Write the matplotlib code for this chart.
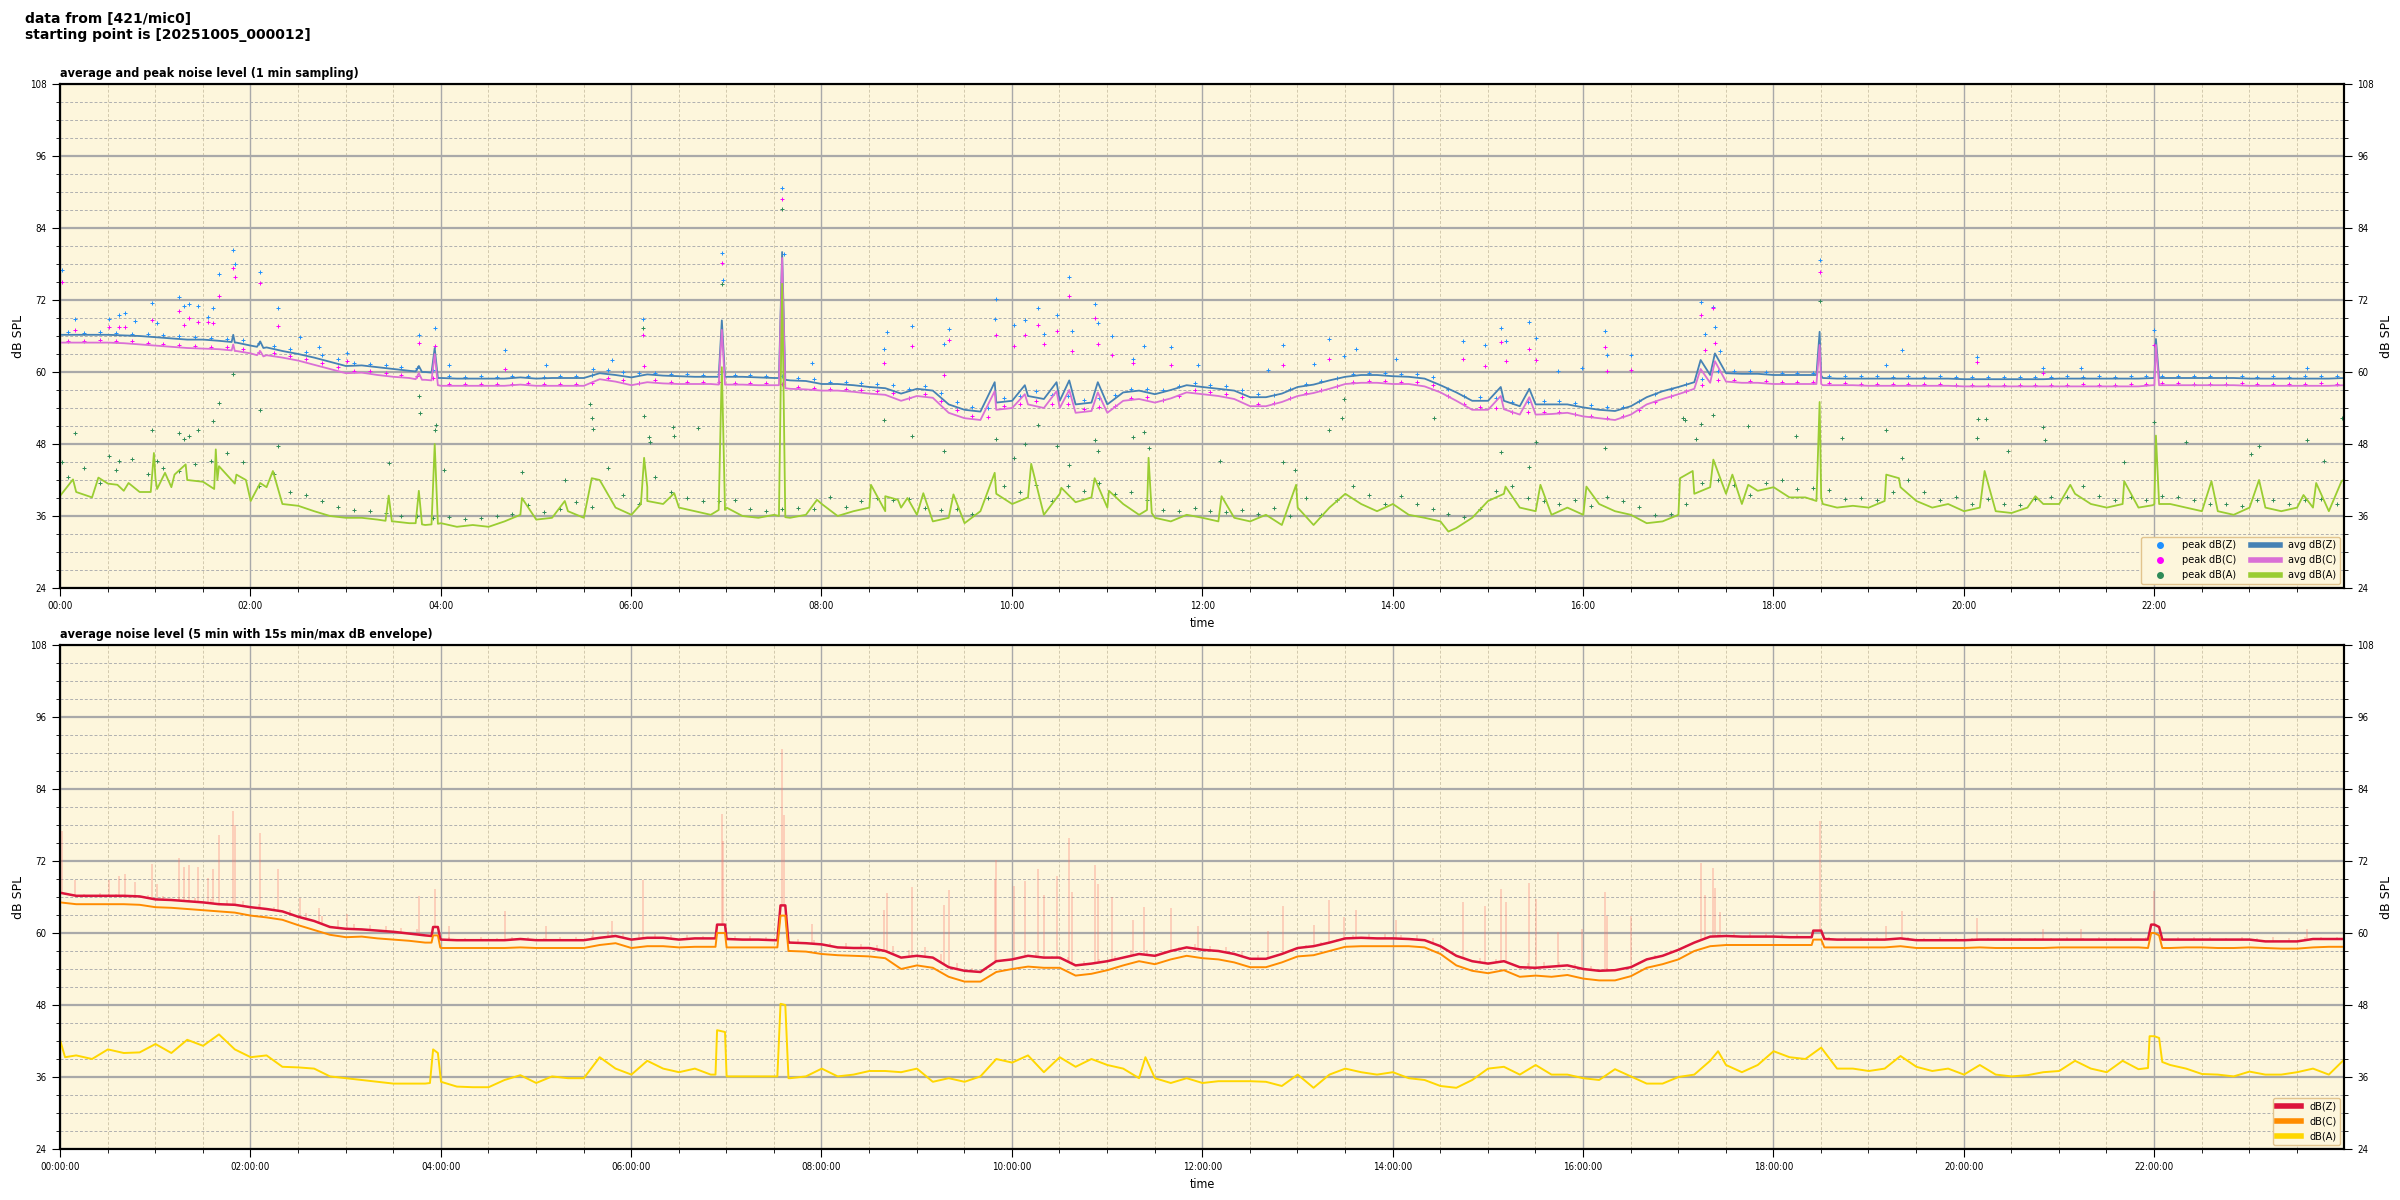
import numpy as np
import matplotlib
matplotlib.use("Agg")
import matplotlib.pyplot as plt
from matplotlib.ticker import MultipleLocator, FuncFormatter
from matplotlib.lines import Line2D

# ---- data (minutes after 00:00:12) ----
# top panel: 1 min averages, read every 10 min, 00:00 ... 24:00 (145 values)
avg_z = [
    66.2, 66.2, 66.2, 66.2, 66.1, 66.0,
    65.8, 65.6, 65.4, 65.4, 65.2, 64.9,
    64.4, 64.1, 63.5, 63.0, 62.4, 61.7,
    61.0, 61.1, 60.8, 60.5, 60.2, 60.0,
    59.0, 58.9, 58.9, 58.9, 58.9, 59.1,
    58.9, 59.0, 59.0, 59.0, 59.8, 59.5,
    59.1, 59.6, 59.4, 59.3, 59.2, 59.2,
    59.2, 59.2, 59.1, 59.0, 58.6, 58.5,
    58.0, 58.0, 57.8, 57.5, 57.3, 56.4,
    57.2, 56.9, 54.6, 53.7, 53.4, 54.9,
    55.2, 56.0, 55.5, 55.2, 54.6, 54.9,
    54.6, 56.6, 56.9, 56.3, 57.0, 57.8,
    57.5, 57.2, 56.9, 55.8, 55.8, 56.4,
    57.5, 57.9, 58.6, 59.2, 59.5, 59.5,
    59.3, 59.2, 58.9, 57.8, 56.6, 55.2,
    55.2, 55.2, 54.3, 54.6, 54.6, 54.6,
    54.1, 53.7, 53.5, 54.3, 55.8, 56.8,
    57.5, 58.3, 59.5, 59.8, 59.7, 59.7,
    59.5, 59.5, 59.5, 59.4, 58.9, 58.9,
    58.9, 58.9, 58.9, 58.9, 58.9, 58.9,
    58.8, 58.8, 58.8, 58.8, 58.8, 58.8,
    58.9, 58.9, 58.9, 58.9, 58.9, 58.9,
    59.0, 59.0, 59.0, 59.0, 59.0, 59.0,
    58.9, 58.9, 58.9, 58.9, 58.9, 58.9,
    59.0]
avg_c = [
    64.9, 64.9, 64.9, 64.9, 64.8, 64.6,
    64.4, 64.2, 64.0, 63.9, 63.8, 63.5,
    63.1, 62.8, 62.4, 61.9, 61.2, 60.5,
    59.8, 59.9, 59.5, 59.2, 59.0, 58.7,
    57.7, 57.7, 57.7, 57.7, 57.7, 57.9,
    57.7, 57.7, 57.7, 57.7, 58.8, 58.4,
    57.8, 58.3, 58.1, 58.0, 58.0, 58.0,
    57.9, 57.9, 57.8, 57.8, 57.2, 57.1,
    56.9, 56.9, 56.7, 56.4, 56.2, 55.2,
    56.0, 55.7, 53.2, 52.3, 52.0, 53.7,
    54.0, 54.6, 54.0, 54.0, 53.2, 53.5,
    53.2, 55.2, 55.5, 54.9, 55.6, 56.6,
    56.3, 56.0, 55.5, 54.3, 54.3, 55.0,
    56.0, 56.5, 57.2, 58.0, 58.2, 58.2,
    58.0, 58.0, 57.6, 56.6, 55.2, 53.7,
    53.7, 53.8, 52.9, 52.9, 53.0, 53.2,
    52.6, 52.3, 52.0, 52.9, 54.6, 55.5,
    56.3, 57.2, 58.2, 58.4, 58.2, 58.2,
    58.0, 58.0, 58.0, 58.0, 57.8, 57.8,
    57.7, 57.7, 57.7, 57.7, 57.7, 57.7,
    57.6, 57.6, 57.6, 57.6, 57.6, 57.6,
    57.6, 57.6, 57.6, 57.6, 57.6, 57.6,
    57.8, 57.8, 57.8, 57.8, 57.8, 57.8,
    57.7, 57.7, 57.7, 57.7, 57.7, 57.7,
    57.8]
avg_a = [
    39.4, 40.0, 39.1, 41.4, 40.2, 40.0,
    42.2, 40.8, 42.0, 41.7, 44.3, 41.4,
    38.5, 40.8, 38.0, 37.7, 36.8, 36.0,
    35.7, 35.7, 35.4, 35.1, 34.8, 34.5,
    34.8, 34.2, 34.5, 34.2, 35.1, 36.2,
    35.4, 35.7, 36.8, 35.7, 42.0, 37.4,
    36.2, 40.8, 38.0, 37.4, 36.8, 36.2,
    37.4, 36.0, 35.7, 36.2, 35.7, 36.2,
    38.0, 36.0, 36.8, 37.4, 36.8, 37.4,
    36.2, 35.1, 35.7, 34.8, 36.8, 39.7,
    38.0, 39.1, 36.2, 39.7, 38.3, 39.1,
    37.4, 38.0, 36.2, 35.7, 35.1, 36.2,
    35.7, 35.1, 35.7, 35.1, 36.2, 34.5,
    37.4, 34.5, 37.4, 39.7, 38.0, 36.8,
    38.0, 36.2, 35.7, 35.1, 34.0, 35.7,
    38.5, 39.7, 37.4, 36.8, 36.2, 37.4,
    36.2, 38.0, 36.8, 36.2, 34.8, 35.1,
    36.2, 39.7, 40.8, 39.7, 38.0, 40.2,
    40.8, 39.1, 39.1, 39.0, 37.4, 37.7,
    37.4, 38.5, 40.8, 38.5, 37.4, 38.0,
    36.8, 37.4, 36.8, 36.5, 37.4, 38.0,
    38.0, 39.7, 38.0, 37.4, 38.0, 37.4,
    38.0, 38.0, 37.4, 36.8, 36.8, 36.2,
    37.4, 37.4, 36.8, 37.4, 37.4, 36.8,
    42.1]

# short events between the 10 min readings: (minute, dB)
avg_z_extra = [(108, 65.0), (109, 66.2), (111, 64.9), (124, 64.2), (126, 65.1), (128, 64.0),
               (224, 60.1), (226, 61.0), (228, 60.0), (234, 59.9), (236, 64.0), (238, 59.0),
               (415, 59.2), (417, 68.6), (419, 59.2), (453, 59.0), (455, 80.0), (457, 58.7),
               (589, 58.3), (608, 57.8), (628, 58.3), (636, 58.6), (654, 58.3), (908, 57.5),
               (926, 57.2), (1034, 62.0), (1043, 63.1), (1107, 59.5), (1109, 66.7), (1111, 59.0),
               (1319, 59.0), (1321, 65.5), (1323, 59.0)]
avg_c_extra = [(108, 63.6), (109, 64.6), (111, 63.5), (124, 62.8), (126, 63.5), (128, 62.6),
               (224, 58.8), (226, 59.8), (228, 58.7), (234, 58.6), (236, 63.0), (238, 57.8),
               (415, 57.9), (417, 67.0), (419, 57.9), (453, 57.8), (455, 79.0), (457, 57.3),
               (589, 56.8), (608, 56.3), (628, 56.8), (636, 57.0), (654, 56.6), (908, 56.0),
               (926, 55.8), (1034, 60.5), (1043, 61.8), (1107, 58.0), (1109, 64.5), (1111, 57.8),
               (1319, 57.8), (1321, 64.5), (1323, 57.8)]
avg_a_extra = [(8, 42.1), (24, 42.4), (36, 41.2), (43, 41.5), (57, 40.0), (59, 46.5), (61, 40.5),
               (66, 43.2), (72, 42.9), (79, 44.6), (97, 40.5), (98, 47.1), (99, 42.0), (111, 42.9),
               (117, 42.0), (126, 41.5), (134, 43.5), (205, 35.2), (207, 39.4), (209, 35.1),
               (224, 34.8), (226, 40.2), (228, 34.6), (234, 34.6), (236, 48.0), (238, 34.7),
               (291, 39.0), (318, 38.5), (335, 42.3), (366, 38.0), (368, 45.7), (370, 38.5),
               (387, 39.8), (415, 37.0), (417, 60.8), (419, 37.0), (453, 36.0), (455, 74.7),
               (457, 35.8), (477, 38.7), (511, 41.2), (520, 39.3), (528, 38.7), (534, 39.0),
               (544, 39.8), (563, 39.6), (589, 43.2), (612, 44.7), (631, 40.7), (652, 42.3),
               (661, 40.2), (685, 37.0), (686, 45.7), (688, 36.5), (732, 39.3), (779, 41.2),
               (875, 33.4), (911, 40.9), (933, 41.2), (962, 40.9), (1021, 42.3), (1029, 43.5),
               (1042, 45.4), (1054, 42.9), (1064, 41.2), (1107, 38.5), (1109, 55.0), (1111, 38.0),
               (1151, 42.9), (1159, 42.3), (1213, 43.5), (1245, 39.3), (1267, 41.2), (1301, 41.8),
               (1319, 37.8), (1321, 49.4), (1323, 38.0), (1356, 41.8), (1386, 42.0), (1414, 39.5),
               (1422, 41.5), (1438, 41.8)]

# peaks, read every 10 min at hh:m5 (144 values)
peak_z = [
    66.6, 66.5, 66.6, 66.5, 66.4, 66.3,
    66.1, 66.0, 65.8, 65.7, 65.5, 65.3,
    64.8, 64.4, 63.9, 63.4, 62.8, 62.1,
    61.5, 61.3, 61.2, 60.8, 60.6, 60.4,
    59.3, 59.2, 59.3, 59.2, 59.4, 59.4,
    59.2, 59.3, 59.3, 59.5, 60.4, 60.0,
    59.8, 59.8, 59.6, 59.6, 59.5, 59.6,
    59.5, 59.5, 59.4, 59.3, 59.0, 58.8,
    58.4, 58.3, 58.2, 58.0, 57.8, 57.2,
    57.6, 56.5, 55.0, 54.2, 54.0, 55.6,
    56.0, 56.8, 56.2, 56.0, 55.4, 55.6,
    56.2, 57.2, 57.2, 57.0, 57.6, 58.2,
    57.9, 57.6, 57.0, 56.3, 56.2, 57.2,
    58.0, 58.5, 59.0, 59.6, 59.9, 59.9,
    59.7, 59.6, 59.2, 57.2, 56.0, 55.8,
    55.7, 55.0, 55.0, 55.1, 55.2, 54.9,
    54.5, 54.2, 54.2, 55.1, 56.4, 57.2,
    58.0, 58.9, 60.1, 60.2, 60.1, 60.0,
    59.9, 59.9, 59.9, 59.4, 59.3, 59.3,
    59.3, 59.2, 59.3, 59.2, 59.3, 59.2,
    59.2, 59.2, 59.1, 59.2, 59.2, 59.2,
    59.3, 59.2, 59.3, 59.2, 59.3, 59.3,
    59.3, 59.4, 59.3, 59.3, 59.2, 59.3,
    59.2, 59.3, 59.2, 59.3, 59.4, 59.3]
peak_c = [
    65.2, 65.2, 65.3, 65.2, 65.1, 64.9,
    64.7, 64.5, 64.3, 64.2, 64.1, 63.8,
    63.4, 63.1, 62.7, 62.2, 61.5, 60.9,
    60.2, 60.2, 59.8, 59.5, 59.3, 59.0,
    58.0, 58.0, 58.0, 58.0, 58.0, 58.1,
    58.0, 58.0, 58.0, 58.2, 59.0, 58.6,
    58.2, 58.6, 58.4, 58.3, 58.3, 58.3,
    58.2, 58.2, 58.1, 58.0, 57.5, 57.4,
    57.2, 57.2, 57.0, 56.8, 56.5, 55.6,
    56.4, 55.2, 53.6, 52.7, 52.5, 54.3,
    54.6, 55.2, 54.6, 54.6, 53.8, 54.1,
    54.4, 55.6, 55.8, 55.3, 56.0, 57.0,
    56.6, 56.3, 55.8, 54.7, 54.8, 55.6,
    56.5, 57.0, 57.6, 58.3, 58.5, 58.5,
    58.3, 58.3, 57.9, 56.0, 54.6, 54.2,
    54.0, 53.4, 53.3, 53.3, 53.4, 53.0,
    52.6, 52.4, 52.6, 53.6, 55.0, 56.0,
    56.8, 57.8, 58.6, 58.7, 58.5, 58.5,
    58.3, 58.3, 58.3, 58.1, 58.1, 58.0,
    58.0, 58.0, 58.0, 58.0, 58.0, 57.9,
    57.9, 57.9, 57.9, 57.9, 57.9, 57.9,
    57.9, 58.0, 57.9, 57.9, 58.0, 58.0,
    58.1, 58.1, 58.0, 58.0, 58.0, 58.1,
    58.0, 58.0, 58.0, 58.0, 58.1, 58.0]
peak_a = [
    42.5, 44.0, 41.5, 43.6, 45.5, 43.0,
    44.0, 43.5, 44.6, 45.2, 46.5, 45.0,
    41.0, 43.0, 40.0, 39.5, 38.5, 37.5,
    37.0, 36.8, 36.5, 36.0, 36.0, 35.6,
    35.8, 35.5, 35.6, 36.0, 36.4, 37.8,
    36.6, 37.2, 38.3, 37.5, 44.0, 39.5,
    38.0, 42.5, 40.0, 39.0, 38.5, 38.5,
    38.6, 37.2, 36.8, 37.2, 37.4, 37.2,
    39.2, 37.5, 38.5, 39.0, 38.6, 38.8,
    37.4, 37.0, 37.2, 36.4, 39.0, 41.0,
    40.0, 41.2, 38.5, 41.0, 40.2, 41.5,
    39.6, 40.0, 38.6, 37.0, 36.8, 37.4,
    36.8, 36.6, 37.0, 36.4, 37.4, 36.0,
    39.0, 36.2, 38.6, 41.0, 39.5, 38.0,
    39.4, 38.0, 37.2, 36.4, 35.8, 37.2,
    40.2, 41.0, 39.0, 38.5, 38.0, 38.6,
    37.6, 39.2, 38.5, 37.5, 36.2, 36.4,
    38.0, 41.5, 42.0, 41.2, 39.5, 41.5,
    42.0, 40.5, 40.6, 40.4, 38.8, 39.0,
    38.6, 40.0, 42.0, 40.0, 38.6, 39.2,
    38.0, 38.8, 38.0, 37.8, 38.8, 39.2,
    39.2, 41.0, 39.4, 38.6, 39.2, 38.6,
    39.4, 39.2, 38.6, 38.0, 38.0, 37.6,
    38.6, 38.6, 38.0, 38.6, 38.8, 38.0]

# isolated loud peaks: (minute, dB)
peak_z_extra = [(1, 77.0), (9, 68.8), (31, 68.8), (37, 69.5), (41, 69.9), (47, 68.5), (58, 71.5),
                (61, 68.1), (75, 72.5), (78, 71.0), (81, 71.3), (87, 71.0), (93, 69.2), (96, 70.7),
                (100, 76.4), (109, 80.3), (110, 78.0), (126, 76.6), (137, 70.7), (151, 65.8),
                (163, 64.2), (181, 63.2), (226, 66.1), (236, 67.3), (245, 61.2), (280, 63.7),
                (306, 61.2), (336, 60.5), (348, 62.0), (367, 68.9), (417, 79.8), (418, 75.4),
                (455, 90.6), (456, 79.6), (474, 61.5), (519, 63.8), (521, 66.7), (537, 67.6),
                (557, 64.7), (560, 67.1), (589, 68.9), (590, 72.1), (601, 67.8), (608, 68.6),
                (616, 70.6), (620, 66.3), (628, 69.5), (636, 75.8), (638, 66.8), (652, 71.4),
                (654, 68.1), (663, 66.0), (676, 62.1), (683, 64.4), (700, 64.1), (717, 61.2),
                (761, 60.4), (771, 64.5), (790, 61.3), (800, 65.5), (809, 62.6), (817, 63.9),
                (842, 62.2), (884, 65.2), (898, 64.5), (908, 67.3), (911, 65.2), (926, 68.3),
                (930, 65.7), (944, 60.1), (959, 60.7), (974, 66.9), (975, 62.9), (990, 62.9),
                (1034, 71.7), (1037, 66.3), (1042, 70.9), (1043, 67.5), (1046, 63.5),
                (1109, 78.7), (1151, 61.1), (1161, 63.6), (1208, 62.5), (1250, 60.6),
                (1274, 60.7), (1320, 67.0), (1416, 60.7)]
peak_c_extra = [(1, 75.0), (9, 67.0), (31, 67.5), (37, 67.5), (41, 67.5), (58, 68.6), (75, 70.1),
                (78, 67.9), (81, 69.0), (87, 68.4), (93, 68.4), (96, 68.1), (100, 72.6),
                (109, 77.3), (110, 75.8), (126, 74.8), (137, 67.6), (181, 61.8), (226, 64.9),
                (236, 64.4), (280, 60.5), (367, 66.1), (368, 61.0), (417, 78.1), (455, 88.9),
                (519, 61.5), (537, 64.4), (557, 59.5), (560, 65.4), (590, 66.1), (601, 64.4),
                (608, 66.1), (616, 67.8), (620, 64.7), (628, 66.9), (636, 72.6), (638, 63.5),
                (652, 69.0), (654, 64.7), (663, 62.9), (676, 61.5), (700, 61.2), (771, 61.1),
                (800, 62.2), (884, 62.2), (898, 61.0), (908, 65.0), (911, 61.8), (926, 63.8),
                (930, 62.0), (974, 64.1), (975, 60.1), (990, 60.4), (1034, 69.5), (1037, 63.6),
                (1042, 70.6), (1043, 64.9), (1109, 76.6), (1208, 61.6), (1250, 59.9),
                (1320, 64.5)]
peak_a_extra = [(1, 45.0), (9, 49.8), (31, 46.0), (37, 45.1), (58, 50.3), (61, 45.1), (75, 49.8),
                (78, 48.8), (81, 49.4), (87, 50.3), (96, 51.9), (100, 54.8), (109, 59.7),
                (126, 53.6), (137, 47.6), (207, 44.8), (226, 56.0), (227, 53.2), (236, 50.3),
                (237, 51.2), (242, 43.7), (291, 43.3), (318, 42.0), (334, 54.6), (335, 52.3),
                (336, 50.5), (367, 67.3), (368, 52.6), (371, 49.1), (372, 48.3), (386, 50.9),
                (387, 49.4), (402, 50.6), (417, 74.7), (455, 87.2), (519, 52.0), (537, 49.4),
                (557, 46.9), (590, 48.9), (601, 45.7), (608, 48.0), (616, 51.2), (628, 47.7),
                (636, 44.5), (652, 48.6), (654, 46.9), (676, 49.1), (683, 50.0), (686, 47.4),
                (731, 45.1), (771, 45.0), (778, 43.6), (800, 50.3), (808, 52.4), (809, 55.5),
                (866, 52.4), (908, 46.6), (926, 44.2), (930, 48.3), (974, 47.3), (1023, 52.3),
                (1024, 52.0), (1031, 48.9), (1034, 51.4), (1042, 52.8), (1064, 51.0),
                (1094, 49.3), (1109, 71.8), (1123, 49.0), (1151, 50.3), (1161, 45.7),
                (1208, 49.0), (1209, 52.1), (1214, 52.1), (1228, 46.9), (1250, 50.9),
                (1251, 48.6), (1301, 45.0), (1320, 51.7), (1340, 48.3), (1381, 46.3),
                (1386, 47.7), (1416, 48.6), (1427, 45.1), (1438, 52.3)]

# bottom panel: 5 min averages, read every 10 min (145 values)
lvl_z = [
    66.7, 66.2, 66.2, 66.2, 66.2, 66.1,
    65.6, 65.5, 65.3, 65.1, 64.8, 64.7,
    64.3, 64.0, 63.6, 62.7, 62.0, 61.0,
    60.7, 60.6, 60.4, 60.2, 59.9, 59.6,
    58.9, 58.8, 58.8, 58.8, 58.8, 59.0,
    58.8, 58.8, 58.8, 58.8, 59.2, 59.5,
    58.9, 59.2, 59.2, 58.9, 59.1, 59.1,
    59.0, 58.9, 58.9, 58.8, 58.4, 58.3,
    58.1, 57.6, 57.5, 57.5, 57.0, 55.9,
    56.2, 55.9, 54.3, 53.7, 53.5, 55.3,
    55.6, 56.2, 55.9, 55.9, 54.6, 54.9,
    55.3, 55.9, 56.5, 56.2, 57.0, 57.6,
    57.2, 57.0, 56.5, 55.7, 55.7, 56.5,
    57.5, 57.8, 58.4, 59.1, 59.2, 59.1,
    59.1, 59.0, 58.8, 57.8, 56.2, 55.3,
    54.9, 55.3, 54.3, 54.2, 54.4, 54.6,
    54.0, 53.7, 53.8, 54.3, 55.6, 56.2,
    57.2, 58.4, 59.4, 59.5, 59.4, 59.4,
    59.4, 59.3, 59.3, 60.4, 58.9, 58.9,
    58.9, 58.9, 59.1, 58.8, 58.8, 58.8,
    58.8, 58.9, 58.9, 58.9, 58.9, 58.9,
    58.9, 58.9, 58.9, 58.9, 58.9, 58.9,
    61.4, 58.9, 58.9, 58.9, 58.9, 58.9,
    58.9, 58.6, 58.6, 58.6, 59.0, 59.0,
    59.0]
lvl_c = [
    65.1, 64.8, 64.8, 64.8, 64.8, 64.7,
    64.3, 64.2, 64.0, 63.8, 63.6, 63.4,
    62.9, 62.6, 62.2, 61.3, 60.5, 59.7,
    59.3, 59.4, 59.1, 58.9, 58.7, 58.4,
    57.5, 57.5, 57.5, 57.5, 57.5, 57.6,
    57.5, 57.5, 57.5, 57.5, 58.0, 58.3,
    57.5, 57.8, 57.8, 57.6, 57.7, 57.7,
    57.6, 57.6, 57.6, 57.6, 57.0, 56.9,
    56.5, 56.3, 56.2, 56.1, 55.8, 54.0,
    54.6, 54.2, 52.7, 51.9, 51.9, 53.5,
    54.0, 54.4, 54.2, 54.2, 52.9, 53.2,
    53.8, 54.6, 55.3, 54.8, 55.6, 56.2,
    55.8, 55.6, 55.1, 54.3, 54.3, 55.1,
    56.1, 56.3, 57.0, 57.7, 57.8, 57.8,
    57.8, 57.8, 57.6, 56.5, 54.6, 53.7,
    53.3, 53.8, 52.7, 52.9, 52.7, 53.0,
    52.4, 52.1, 52.1, 52.8, 54.2, 54.8,
    55.6, 57.0, 57.8, 58.0, 58.0, 58.0,
    58.0, 58.0, 58.0, 58.9, 57.6, 57.6,
    57.6, 57.6, 57.8, 57.5, 57.5, 57.5,
    57.5, 57.6, 57.5, 57.5, 57.5, 57.5,
    57.6, 57.6, 57.6, 57.6, 57.6, 57.6,
    60.0, 57.5, 57.6, 57.6, 57.5, 57.5,
    57.6, 57.5, 57.4, 57.4, 57.6, 57.7,
    57.7]
lvl_a = [
    42.0, 39.6, 39.0, 40.6, 40.0, 40.1,
    41.5, 40.0, 42.2, 41.2, 43.1, 40.6,
    39.3, 39.6, 37.7, 37.6, 37.4, 36.1,
    35.8, 35.5, 35.2, 34.9, 34.9, 34.9,
    35.2, 34.4, 34.3, 34.3, 35.5, 36.3,
    35.0, 36.1, 35.8, 35.8, 39.3, 37.4,
    36.4, 38.7, 37.4, 36.8, 37.4, 36.4,
    36.1, 36.1, 36.1, 36.1, 35.8, 36.1,
    37.4, 36.1, 36.4, 37.0, 37.0, 36.8,
    37.4, 35.2, 35.8, 35.2, 36.1, 39.0,
    38.4, 39.6, 36.8, 39.3, 37.7, 39.0,
    38.0, 37.4, 35.8, 35.8, 35.0, 35.8,
    35.0, 35.3, 35.3, 35.3, 35.2, 34.5,
    36.4, 34.2, 36.4, 37.4, 36.8, 36.4,
    36.8, 35.8, 35.5, 34.5, 34.2, 35.5,
    37.4, 37.7, 36.4, 38.0, 36.4, 36.4,
    35.8, 35.5, 37.3, 36.1, 34.9, 34.9,
    36.0, 36.4, 38.7, 38.0, 36.8, 38.0,
    40.3, 39.3, 39.0, 40.9, 37.4, 37.4,
    37.0, 37.4, 39.5, 37.7, 37.0, 37.4,
    36.4, 38.0, 36.4, 36.1, 36.3, 36.8,
    37.0, 38.7, 37.4, 36.8, 38.7, 37.3,
    42.8, 38.0, 37.4, 36.5, 36.4, 36.1,
    36.9, 36.4, 36.4, 36.8, 37.4, 36.4,
    39.0]
lvl_z_extra = [(234, 59.5), (235, 61.0), (238, 61.0), (239.5, 59.0), (413, 59.1), (414, 61.4),
               (419, 61.4), (452, 58.8), (454, 64.6), (457, 64.6), (459, 58.4), (1104, 59.3),
               (1105, 60.4), (1112, 59.0), (1316, 58.9), (1318, 61.4), (1323, 61.0), (1325, 58.9)]
lvl_c_extra = [(234, 58.4), (235, 59.6), (238, 59.6), (239.5, 57.6), (413, 57.7), (414, 60.0),
               (419, 60.0), (452, 57.6), (454, 62.9), (457, 62.9), (459, 57.0), (1104, 58.0),
               (1105, 58.9), (1112, 57.6), (1316, 57.5), (1318, 60.0), (1323, 59.6), (1325, 57.5)]
lvl_a_extra = [(3, 39.3), (233, 35.0), (235, 40.6), (238, 40.0), (413, 36.4), (414, 43.8),
               (419, 43.5), (452, 36.1), (454, 48.2), (457, 48.0), (459, 35.8), (684, 39.3),
               (1045, 40.3), (1316, 37.5), (1317, 42.8), (1323, 42.5), (1325, 38.5)]

BG = "#fdf6dc"
START = 0.2  # first sample at 00:00:12
grid_t = np.arange(0, 1441, 10) + START
peak_t = np.arange(5, 1440, 10) + START


def merged(values, extra):
    t = np.concatenate([grid_t, [p[0] + START for p in extra]])
    v = np.concatenate([values, [p[1] for p in extra]])
    order = np.argsort(t, kind="stable")
    return t[order], v[order]


def peaks(values, extra):
    t = np.concatenate([peak_t, [p[0] + START for p in extra]])
    v = np.concatenate([values, [p[1] for p in extra]])
    return t, v


def hhmm(m, pos):
    return "%02d:%02d" % (int(m // 60), int(m % 60))


def hhmmss(m, pos):
    return "%02d:%02d:00" % (int(m // 60), int(m % 60))


def style(ax, fmt):
    ax.set_facecolor(BG)
    ax.set_xlim(0, 1439.8)
    ax.set_ylim(24, 108)
    ax.xaxis.set_major_locator(MultipleLocator(120))
    ax.xaxis.set_minor_locator(MultipleLocator(30))
    ax.yaxis.set_major_locator(MultipleLocator(12))
    ax.yaxis.set_minor_locator(MultipleLocator(3))
    ax.xaxis.set_major_formatter(FuncFormatter(fmt))
    ax.grid(which="major", axis="y", color="#a9a9a9", lw=1.6)
    ax.grid(which="major", axis="x", color="#a9a9a9", lw=1.0)
    ax.grid(which="minor", axis="y", color="#b0b0b0", lw=0.7, ls=(0, (3, 2)))
    ax.grid(which="minor", axis="x", color="#d2c9ad", lw=0.7, ls=(0, (3, 2)))
    ax.set_axisbelow(True)
    ax.tick_params(which="major", length=6, labelsize=7)
    ax.tick_params(which="minor", length=3)
    ax.set_ylabel("dB SPL", fontsize=9, fontstretch="normal")
    ax.set_xlabel("time", fontsize=9)
    for s in ax.spines.values():
        s.set_linewidth(1.5)
    tw = ax.twinx()
    tw.set_ylim(24, 108)
    tw.yaxis.set_major_locator(MultipleLocator(12))
    tw.yaxis.set_minor_locator(MultipleLocator(3))
    tw.tick_params(which="major", length=6, labelsize=7)
    tw.tick_params(which="minor", length=3)
    tw.set_ylabel("dB SPL", fontsize=9, fontstretch="normal")
    for s in tw.spines.values():
        s.set_linewidth(1.5)


plt.rcParams["font.family"] = ["DejaVu Sans"]
plt.rcParams["font.stretch"] = "condensed"

fig = plt.figure(figsize=(24, 12), dpi=100)
fig.text(0.0104, 0.99, "data from [421/mic0]\nstarting point is [20251005_000012]",
         fontsize=10, fontweight="bold", va="top", ha="left", fontstretch="normal")

# ---- top: average and peak ----
ax1 = fig.add_axes([0.025, 0.51, 0.9517, 0.42])
for vals, extra, col in [(peak_z, peak_z_extra, "dodgerblue"),
                         (peak_c, peak_c_extra, "magenta"),
                         (peak_a, peak_a_extra, "seagreen")]:
    t, v = peaks(vals, extra)
    ax1.scatter(t, v, s=6, marker="+", linewidths=0.7, color=col, zorder=2)
for vals, extra, col in [(avg_z, avg_z_extra, "steelblue"),
                         (avg_c, avg_c_extra, "orchid"),
                         (avg_a, avg_a_extra, "yellowgreen")]:
    t, v = merged(vals, extra)
    ax1.plot(t, v, color=col, lw=1.3, zorder=3)
ax1.set_title("average and peak noise level (1 min sampling)", loc="left",
              fontsize=9, fontweight="bold", pad=5)
style(ax1, hhmm)
h1 = [Line2D([], [], ls="none", marker="o", ms=4, color=c) for c in ["dodgerblue", "magenta", "seagreen"]]
h1 += [Line2D([], [], lw=4, color=c) for c in ["steelblue", "orchid", "yellowgreen"]]
lab1 = ["peak dB(Z)", "peak dB(C)", "peak dB(A)", "avg dB(Z)", "avg dB(C)", "avg dB(A)"]
leg = ax1.legend(h1, lab1, ncol=2, loc="lower right", facecolor=BG,
                 edgecolor="#e2c48e", framealpha=1, handlelength=3, columnspacing=1.5,
                 borderaxespad=0.4, prop={"size": 7, "stretch": "normal"})
leg.set_zorder(10)

# ---- bottom: 5 min levels with envelope ----
ax2 = fig.add_axes([0.025, 0.0425, 0.9517, 0.42])
zt, zv = merged(lvl_z, lvl_z_extra)
pt, pv = peaks(peak_z, peak_z_extra)
base = np.interp(pt, zt, zv)
keep = pv > base
ax2.vlines(pt[keep], base[keep], pv[keep], colors="salmon", alpha=0.35, lw=1.3, zorder=1)
for vals, extra, col, lw in [(lvl_z, lvl_z_extra, "crimson", 1.8),
                             (lvl_c, lvl_c_extra, "darkorange", 1.4),
                             (lvl_a, lvl_a_extra, "gold", 1.4)]:
    t, v = merged(vals, extra)
    ax2.plot(t, v, color=col, lw=lw, zorder=3)
ax2.set_title("average noise level (5 min with 15s min/max dB envelope)", loc="left",
              fontsize=9, fontweight="bold", pad=5)
style(ax2, hhmmss)
h2 = [Line2D([], [], lw=4, color=c) for c in ["crimson", "darkorange", "gold"]]
leg2 = ax2.legend(h2, ["dB(Z)", "dB(C)", "dB(A)"], loc="lower right", facecolor=BG,
                  edgecolor="#e2c48e", framealpha=1, handlelength=2.5,
                  borderaxespad=0.4, prop={"size": 7, "stretch": "normal"})
leg2.set_zorder(10)

fig.savefig("out.png", dpi=100)
